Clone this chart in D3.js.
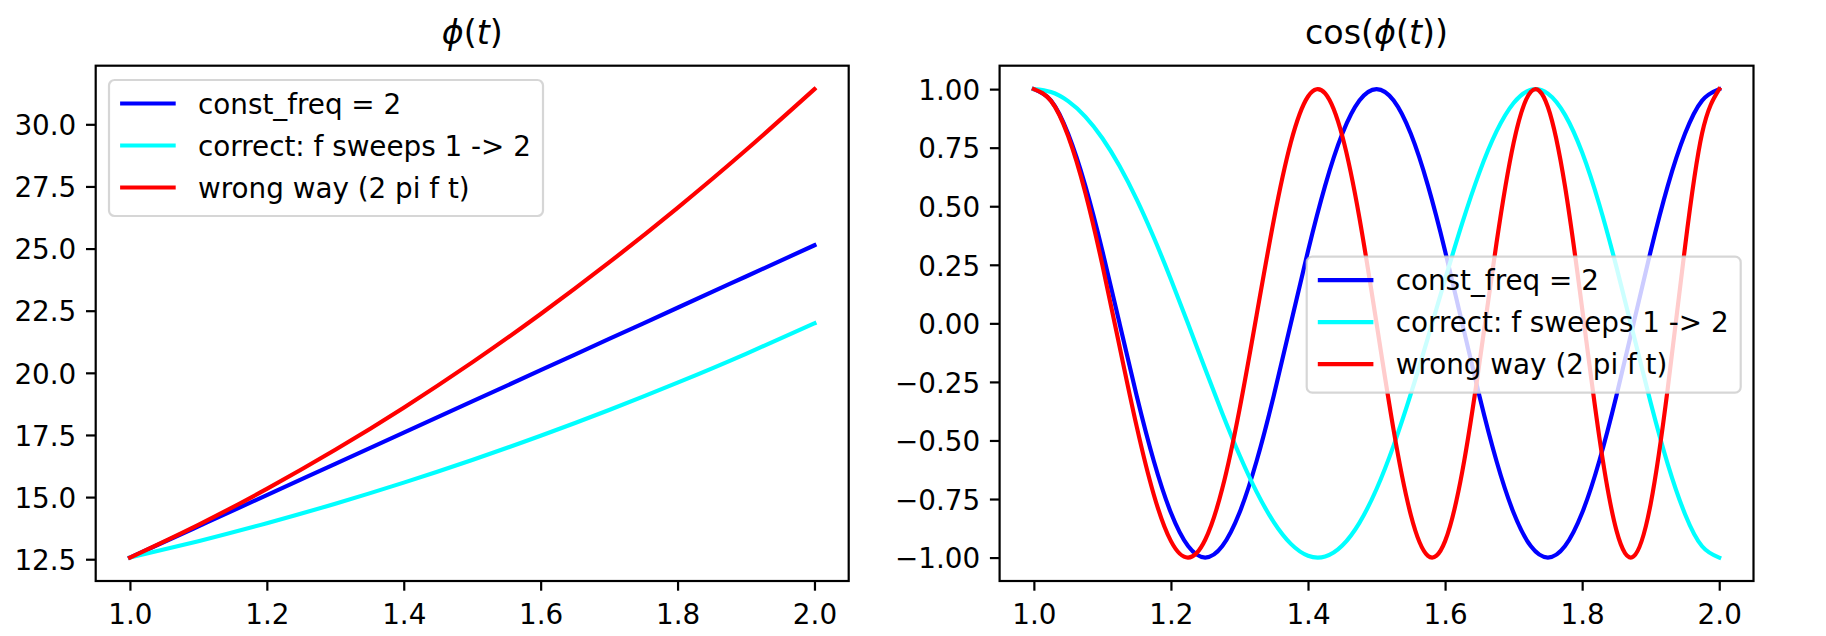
<!DOCTYPE html>
<html><head><meta charset="utf-8">
<script src="https://cdn.jsdelivr.net/npm/d3@7"></script>
<style>body{margin:0;background:#fff} svg{display:block} text{font-family:"DejaVu Sans",sans-serif}</style>
</head><body><svg id="c" width="1826" height="636"></svg>
<script>
// ---- data ----
const seriesNames = ["const_freq = 2", "correct: f sweeps 1 -> 2", "wrong way (2 pi f t)"];
const seriesColors = ["#0000ff", "#00ffff", "#ff0000"];

const tPhase = [1.0, 1.1, 1.2, 1.3, 1.4, 1.5, 1.6, 1.7, 1.8, 1.9, 2.0];
const phaseConst   = [12.566, 13.823, 15.080, 16.336, 17.593, 18.850, 20.106, 21.363, 22.619, 23.876, 25.133];
const phaseCorrect = [12.566, 13.226, 13.949, 14.734, 15.582, 16.493, 17.467, 18.504, 19.604, 20.766, 21.991];
const phaseWrong   = [12.566, 13.886, 15.331, 16.902, 18.598, 20.420, 22.368, 24.442, 26.641, 28.966, 31.416];

const tCos = [1.000,1.025,1.050,1.075,1.100,1.125,1.150,1.175,1.200,1.225,1.250,1.275,1.300,1.325,1.350,1.375,1.400,1.425,1.450,1.475,1.500,1.525,1.550,1.575,1.600,1.625,1.650,1.675,1.700,1.725,1.750,1.775,1.800,1.825,1.850,1.875,1.900,1.925,1.950,1.975,2.000];
const cosConst = [1, 0.95106, 0.80902, 0.58779, 0.30902, 0, -0.30902, -0.58779, -0.80902, -0.95106, -1, -0.95106, -0.80902, -0.58779, -0.30902, 0, 0.30902, 0.58779, 0.80902, 0.95106, 1, 0.95106, 0.80902, 0.58779, 0.30902, 0, -0.30902, -0.58779, -0.80902, -0.95106, -1, -0.95106, -0.80902, -0.58779, -0.30902, 0, 0.30902, 0.58779, 0.80902, 0.95106, 1];
const cosCorrect = [1, 0.98738, 0.94860, 0.88285, 0.79016, 0.67156, 0.52918, 0.36630, 0.18738, -0.00196, -0.19509, -0.38450, -0.56208, -0.71949, -0.84851, -0.94154, -0.99211, -0.99538, -0.94860, -0.85161, -0.70711, -0.52083, -0.30154, -0.06083, 0.18738, 0.42756, 0.64346, 0.81928, 0.94088, 0.99707, 0.98079, 0.89012, 0.72897, 0.50735, 0.24107, -0.04907, -0.33874, -0.60199, -0.81361, -0.95167, -1];
const cosWrong = [1, 0.94985, 0.79969, 0.55883, 0.24869, -0.09802, -0.43994, -0.73165, -0.92978, -0.99999, -0.92388, -0.70433, -0.36812, 0.03534, 0.43994, 0.77301, 0.96858, 0.98155, 0.79969, 0.45049, 0, -0.45749, -0.81815, -0.99260, -0.92978, -0.63439, -0.17193, 0.34243, 0.77051, 0.98830, 0.92388, 0.58461, 0.06279, -0.48519, -0.88377, -0.99518, -0.77051, -0.27522, 0.32392, 0.81133, 1];

const xTicks = [1.0, 1.2, 1.4, 1.6, 1.8, 2.0];
const xTickLabels = ["1.0", "1.2", "1.4", "1.6", "1.8", "2.0"];
const yTicksPhase = [12.5, 15.0, 17.5, 20.0, 22.5, 25.0, 27.5, 30.0];
const yTickLabelsPhase = ["12.5", "15.0", "17.5", "20.0", "22.5", "25.0", "27.5", "30.0"];
const yTicksCos = [-1.0, -0.75, -0.5, -0.25, 0, 0.25, 0.5, 0.75, 1.0];
const yTickLabelsCos = ["\u22121.00", "\u22120.75", "\u22120.50", "\u22120.25", "0.00", "0.25", "0.50", "0.75", "1.00"];

// ---- layout ----
const TOP = 65.7, BOTTOM = 581;
const FS = 27.8, TFS = 33.3, LW = 4.17, SPW = 2.2, TICK = 9.7;
const PHI = "\u03D5";
const panels = [
  { left: 95.7, right: 848.7, t: tPhase, ys: [phaseConst, phaseCorrect, phaseWrong],
    yTicks: yTicksPhase, yLabels: yTickLabelsPhase,
    title: [[PHI, true], ["(", false], ["t", true], [")", false]], legend: [109, 80] },
  { left: 999.6, right: 1753.5, t: tCos, ys: [cosConst, cosCorrect, cosWrong],
    yTicks: yTicksCos, yLabels: yTickLabelsCos,
    title: [["cos(", false], [PHI, true], ["(", false], ["t", true], ["))", false]], legend: [1306.7, 256.7] }
];

const svg = d3.select("#c");
const padDomain = ext => { const r = ext[1] - ext[0]; return [ext[0] - 0.05 * r, ext[1] + 0.05 * r]; };

panels.forEach(p => {
  const g = svg.append("g");
  const x = d3.scaleLinear().domain(padDomain(d3.extent(p.t))).range([p.left, p.right]);
  const y = d3.scaleLinear().domain(padDomain(d3.extent(p.ys.flat()))).range([BOTTOM, TOP]);
  const line = d3.line().x(d => x(d[0])).y(d => y(d[1])).curve(d3.curveNatural);

  p.ys.forEach((vals, i) => {
    g.append("path")
      .attr("d", line(p.t.map((tt, j) => [tt, vals[j]])))
      .attr("fill", "none").attr("stroke", seriesColors[i])
      .attr("stroke-width", LW).attr("stroke-linejoin", "round").attr("stroke-linecap", "square");
  });

  // x axis
  const gx = g.append("g").attr("transform", `translate(0,${BOTTOM})`)
    .call(d3.axisBottom(x).tickValues(xTicks).tickFormat((d, i) => xTickLabels[i])
      .tickSizeInner(TICK).tickSizeOuter(0));
  gx.select(".domain").remove();
  gx.attr("font-size", FS).attr("font-family", "DejaVu Sans");
  gx.selectAll(".tick line").attr("stroke", "#000").attr("stroke-width", SPW);
  gx.selectAll(".tick text").attr("fill", "#000").attr("y", 43).attr("dy", null);

  // y axis
  const gy = g.append("g").attr("transform", `translate(${p.left},0)`)
    .call(d3.axisLeft(y).tickValues(p.yTicks).tickFormat((d, i) => p.yLabels[i])
      .tickSizeInner(TICK).tickSizeOuter(0));
  gy.select(".domain").remove();
  gy.attr("font-size", FS).attr("font-family", "DejaVu Sans");
  gy.selectAll(".tick line").attr("stroke", "#000").attr("stroke-width", SPW);
  gy.selectAll(".tick text").attr("fill", "#000").attr("x", -(TICK + 9.7)).attr("dy", "0.37em");

  // spines
  g.append("rect").attr("x", p.left).attr("y", TOP)
    .attr("width", p.right - p.left).attr("height", BOTTOM - TOP)
    .attr("fill", "none").attr("stroke", "#000").attr("stroke-width", SPW);

  // title
  const tt = g.append("text").attr("x", (p.left + p.right) / 2).attr("y", 44)
    .attr("text-anchor", "middle").attr("font-size", TFS).attr("fill", "#000");
  p.title.forEach(([s, it]) => tt.append("tspan").text(s).attr("font-style", it ? "italic" : "normal"));

  // legend
  const [lx, ly] = p.legend;
  const lg = g.append("g");
  lg.append("rect").attr("x", lx).attr("y", ly).attr("width", 434).attr("height", 136)
    .attr("rx", 5.6).attr("ry", 5.6)
    .attr("fill", "#fff").attr("fill-opacity", 0.8)
    .attr("stroke", "#cccccc").attr("stroke-opacity", 0.8).attr("stroke-width", 2.2);
  seriesNames.forEach((name, i) => {
    const ry = ly + 23.5 + i * 42;
    lg.append("line").attr("x1", lx + 11.1).attr("x2", lx + 11.1 + 55.6)
      .attr("y1", ry).attr("y2", ry).attr("stroke", seriesColors[i]).attr("stroke-width", LW);
    lg.append("text").attr("x", lx + 89).attr("y", ry + 10).attr("font-size", FS)
      .attr("fill", "#000").text(name);
  });
});
</script></body></html>
